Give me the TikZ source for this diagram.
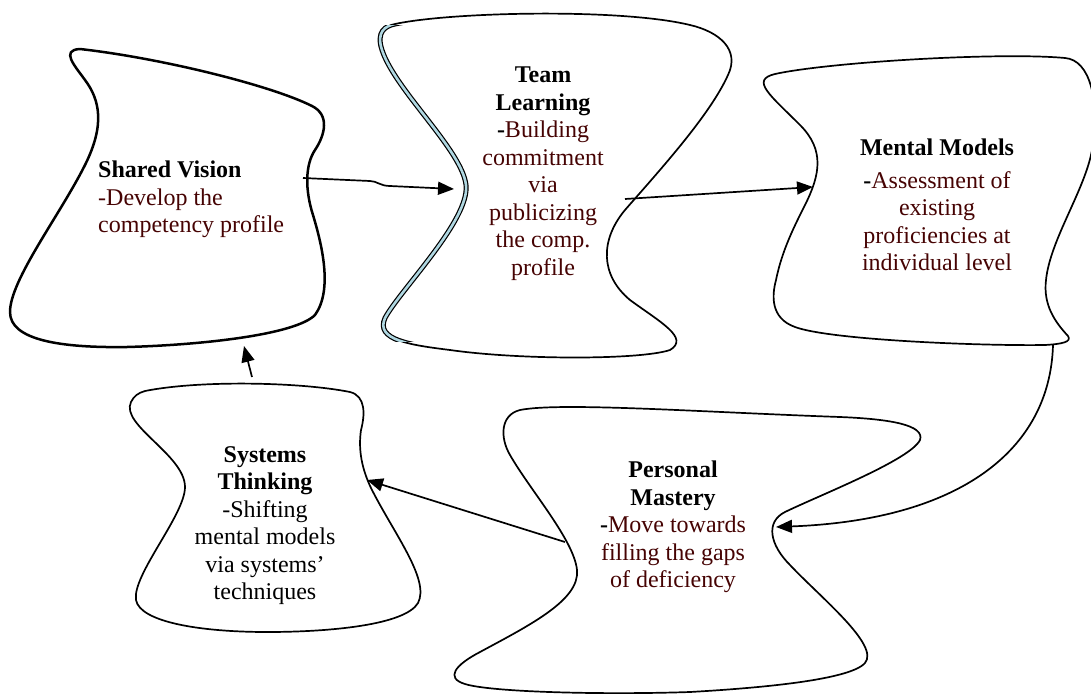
\documentclass[tikz,border=0pt]{standalone}
\usepackage{fontspec}
\setmainfont{Liberation Serif}
\usepackage{xcolor}
\usepackage{tikz}
\usetikzlibrary{arrows.meta}

\definecolor{deepred}{RGB}{70,3,3}
\definecolor{ribbon}{RGB}{175,215,225}
\newcommand{\dr}[1]{\textcolor{deepred}{#1}}
% outline of the team learning cloud, used twice (plain + ribbon edge)
\newcommand{\teamoutline}{(395,24) .. controls (450,12) and (620,8) .. (690,25)
 .. controls (720,32) and (740,50) .. (728,75)
 .. controls (710,115) and (660,170) .. (625,210)
 .. controls (600,240) and (600,275) .. (630,300)
 .. controls (660,322) and (690,338) .. (670,350)
 .. controls (640,360) and (520,360) .. (450,350)
 .. controls (410,345) and (375,340) .. (385,318)
 .. controls (400,290) and (470,220) .. (466,185)
 .. controls (462,150) and (395,90) .. (382,50)
 .. controls (376,32) and (385,26) .. (395,24) -- cycle}

\begin{document}
\begin{tikzpicture}[x=1pt,y=-1pt,>={Triangle[length=16pt,width=13pt]},
 blob/.style={draw=black,line width=1.7pt,line join=round},
 arrow/.style={->,line width=1.7pt},
 blurb/.style={align=center,anchor=north,inner sep=0pt,font=\fontsize{24}{27.5}\selectfont}]
\useasboundingbox (0,0) rectangle (1091,693);

% the five clouds
\draw[blob,line width=2.5pt] (80,49) .. controls (160,58) and (270,85) .. (312,106)
 .. controls (330,115) and (325,135) .. (315,150)
 .. controls (305,165) and (305,190) .. (313,215)
 .. controls (322,245) and (333,290) .. (315,315)
 .. controls (295,335) and (200,345) .. (127,347)
 .. controls (60,348) and (10,340) .. (10,312)
 .. controls (10,280) and (60,215) .. (85,165)
 .. controls (105,125) and (100,100) .. (85,80)
 .. controls (75,66) and (60,50) .. (80,49) -- cycle;
\draw[blob] \teamoutline;
\begin{scope}
 \clip (360,26) rectangle (478,341);
 \draw[line width=1.2pt,double=ribbon,double distance=2.6pt] \teamoutline;
\end{scope}
\draw[blob] (775,74) .. controls (830,62) and (1000,52) .. (1065,58)
 .. controls (1090,60) and (1100,100) .. (1092,150)
 .. controls (1085,190) and (1050,240) .. (1046,280)
 .. controls (1043,305) and (1055,322) .. (1068,336)
 .. controls (1072,342) and (1062,344) .. (1045,345)
 .. controls (980,346) and (830,340) .. (795,327)
 .. controls (770,318) and (772,295) .. (776,280)
 .. controls (782,250) and (795,225) .. (805,205)
 .. controls (820,175) and (825,150) .. (800,125)
 .. controls (770,95) and (750,80) .. (775,74) -- cycle;
\draw[blob] (520,410) .. controls (560,402) and (700,412) .. (840,417)
 .. controls (890,419) and (925,425) .. (920,440)
 .. controls (910,460) and (820,495) .. (785,512)
 .. controls (765,522) and (770,545) .. (790,565)
 .. controls (820,597) and (880,645) .. (865,663)
 .. controls (850,680) and (760,688) .. (690,692)
 .. controls (600,695) and (490,692) .. (465,684)
 .. controls (445,678) and (455,665) .. (480,652)
 .. controls (530,625) and (580,600) .. (577,570)
 .. controls (574,540) and (530,490) .. (510,455)
 .. controls (500,438) and (500,415) .. (520,410) -- cycle;
\draw[blob] (145,391) .. controls (200,380) and (300,382) .. (350,392)
 .. controls (366,396) and (365,415) .. (361,430)
 .. controls (358,450) and (362,470) .. (372,490)
 .. controls (395,535) and (430,580) .. (418,603)
 .. controls (405,625) and (330,632) .. (267,632)
 .. controls (200,632) and (140,622) .. (136,600)
 .. controls (132,575) and (185,515) .. (185,487)
 .. controls (185,455) and (120,425) .. (131,402)
 .. controls (134,396) and (138,393) .. (145,391) -- cycle;

% texts
\node[blurb,align=left,anchor=north west] (sv-text) at (98,161)
 {\textbf{Shared Vision}\\\dr{-Develop the}\\\dr{competency profile}};
\node[blurb] (tl-text) at (543,67)
 {\textbf{Team}\\\textbf{Learning}\\\textbf{-}\dr{Building}\\\dr{commitment}\\\dr{via}\\
  \dr{publicizing}\\\dr{the comp.}\\\dr{profile}};
\node[blurb] (mm-text) at (937,139)
 {\textbf{Mental Models}\\[5pt]\textbf{-}\dr{Assessment of}\\\dr{existing}\\
  \dr{proficiencies at}\\\dr{individual level}};
\node[blurb] (pm-text) at (673,461)
 {\textbf{Personal}\\\textbf{Mastery}\\\textbf{-}\dr{Move towards}\\\dr{filling the gaps}\\
  \dr{of deficiency}};
\node[blurb] (st-text) at (265,446)
 {\textbf{Systems}\\\textbf{Thinking}\\-Shifting\\mental models\\via systems’\\techniques};

% arrow ends
\coordinate (sv-out) at (303,178);
\coordinate (tl-in) at (454,189);
\coordinate (tl-out) at (625,199);
\coordinate (mm-in) at (813,187);
\coordinate (mm-out) at (1053,345);
\coordinate (pm-in) at (776,527);
\coordinate (pm-out) at (565,542);
\coordinate (st-in) at (367,480);
\coordinate (st-out) at (252,377);
\coordinate (sv-in) at (244,346);

\draw[arrow] (sv-out) -- (370,181) .. controls (377,181) and (380,186) .. (390,186) -- (tl-in);
\draw[arrow] (tl-out) -- (mm-in);
\draw[arrow] (mm-out) .. controls (1050,450) and (960,520) .. (pm-in);
\draw[arrow] (pm-out) -- (st-in);
\draw[arrow] (st-out) -- (sv-in);
\end{tikzpicture}
\end{document}
